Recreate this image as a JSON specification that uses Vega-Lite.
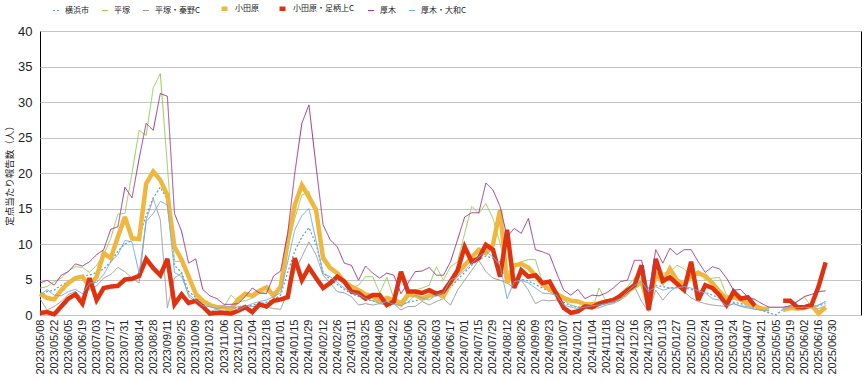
{
  "$schema": "https://vega.github.io/schema/vega-lite/v6.json",
  "width": 821,
  "height": 284,
  "autosize": {"type": "none"},
  "padding": {"left": 40, "top": 31, "right": 3, "bottom": 67},
  "background": "white",
  "config": {
    "view": {"stroke": "#000000", "strokeWidth": 1},
    "font": "Liberation Sans",
    "legend": {
      "orient": "none",
      "legendX": 12,
      "legendY": -28,
      "direction": "horizontal",
      "symbolType": "stroke",
      "symbolSize": 36,
      "labelFont": "Noto Sans CJK JP",
      "labelFontSize": 8,
      "labelColor": "#222222",
      "labelOffset": 5,
      "columnPadding": 11
    }
  },
  "data": {
    "values": [
      {"week":"2023/05/08","横浜市":2.5,"平塚":3.8,"平塚・秦野C":2.3,"小田原":3.0,"小田原・足柄上C":0.3,"厚木":4.5,"厚木・大和C":2.8},
      {"week":"2023/05/15","横浜市":3.3,"平塚":4.0,"平塚・秦野C":0.7,"小田原":2.4,"小田原・足柄上C":0.4,"厚木":4.9,"厚木・大和C":3.6},
      {"week":"2023/05/22","横浜市":3.5,"平塚":4.7,"平塚・秦野C":1.2,"小田原":2.2,"小田原・足柄上C":0.1,"厚木":4.2,"厚木・大和C":2.8},
      {"week":"2023/05/29","横浜市":4.2,"平塚":5.2,"平塚・秦野C":1.9,"小田原":3.5,"小田原・足柄上C":1.2,"厚木":5.6,"厚木・大和C":2.7},
      {"week":"2023/06/05","横浜市":4.7,"平塚":6.2,"平塚・秦野C":2.9,"小田原":4.5,"小田原・足柄上C":2.3,"厚木":6.1,"厚木・大和C":3.3},
      {"week":"2023/06/12","横浜市":5.0,"平塚":6.8,"平塚・秦野C":3.3,"小田原":5.2,"小田原・足柄上C":2.9,"厚木":7.2,"厚木・大和C":3.6},
      {"week":"2023/06/19","横浜市":5.6,"平塚":6.7,"平塚・秦野C":2.3,"小田原":5.4,"小田原・足柄上C":1.6,"厚木":6.9,"厚木・大和C":3.0},
      {"week":"2023/06/26","横浜市":5.6,"平塚":6.0,"平塚・秦野C":3.8,"小田原":4.0,"小田原・足柄上C":5.2,"厚木":7.5,"厚木・大和C":4.5},
      {"week":"2023/07/03","横浜市":6.0,"平塚":7.0,"平塚・秦野C":4.1,"小田原":5.4,"小田原・足柄上C":2.1,"厚木":8.5,"厚木・大和C":4.6},
      {"week":"2023/07/10","横浜市":6.5,"平塚":8.5,"平塚・秦野C":5.2,"小田原":8.7,"小田原・足柄上C":3.8,"厚木":9.2,"厚木・大和C":5.7},
      {"week":"2023/07/17","横浜市":7.5,"平塚":10.8,"平塚・秦野C":5.7,"小田原":8.0,"小田原・足柄上C":4.0,"厚木":12.1,"厚木・大和C":7.5},
      {"week":"2023/07/24","横浜市":9.0,"平塚":14.2,"平塚・秦野C":6.7,"小田原":11.0,"小田原・足柄上C":4.1,"厚木":12.4,"厚木・大和C":8.5},
      {"week":"2023/07/31","横浜市":10.0,"平塚":14.3,"平塚・秦野C":6.1,"小田原":13.8,"小田原・足柄上C":5.0,"厚木":18.0,"厚木・大和C":10.5},
      {"week":"2023/08/07","横浜市":10.5,"平塚":20.0,"平塚・秦野C":5.2,"小田原":10.8,"小田原・足柄上C":5.1,"厚木":16.5,"厚木・大和C":10.3},
      {"week":"2023/08/14","横浜市":11.0,"平塚":26.0,"平塚・秦野C":4.5,"小田原":10.7,"小田原・足柄上C":5.5,"厚木":22.0,"厚木・大和C":5.9},
      {"week":"2023/08/21","横浜市":14.0,"平塚":25.3,"平塚・秦野C":13.4,"小田原":18.5,"小田原・足柄上C":7.9,"厚木":27.0,"厚木・大和C":13.2},
      {"week":"2023/08/28","横浜市":16.5,"平塚":32.0,"平塚・秦野C":16.4,"小田原":20.2,"小田原・足柄上C":6.6,"厚木":26.0,"厚木・大和C":14.3},
      {"week":"2023/09/04","横浜市":18.0,"平塚":34.0,"平塚・秦野C":13.4,"小田原":19.0,"小田原・足柄上C":5.6,"厚木":31.2,"厚木・大和C":16.0},
      {"week":"2023/09/11","横浜市":16.2,"平塚":21.0,"平塚・秦野C":1.0,"小田原":16.9,"小田原・足柄上C":7.9,"厚木":30.8,"厚木・大和C":15.5},
      {"week":"2023/09/18","横浜市":7.0,"平塚":7.5,"平塚・秦野C":5.2,"小田原":9.6,"小田原・足柄上C":1.5,"厚木":14.3,"厚木・大和C":6.0},
      {"week":"2023/09/25","横浜市":6.0,"平塚":7.6,"平塚・秦野C":5.9,"小田原":7.8,"小田原・足柄上C":2.9,"厚木":11.8,"厚木・大和C":5.4},
      {"week":"2023/10/02","横浜市":3.3,"平塚":5.4,"平塚・秦野C":2.6,"小田原":5.4,"小田原・足柄上C":1.7,"厚木":7.3,"厚木・大和C":2.9},
      {"week":"2023/10/09","横浜市":2.5,"平塚":3.2,"平塚・秦野C":1.9,"小田原":3.0,"小田原・足柄上C":2.0,"厚木":7.9,"厚木・大和C":2.1},
      {"week":"2023/10/16","横浜市":1.5,"平塚":2.1,"平塚・秦野C":1.3,"小田原":2.0,"小田原・足柄上C":1.2,"厚木":3.6,"厚木・大和C":1.3},
      {"week":"2023/10/23","横浜市":1.2,"平塚":1.4,"平塚・秦野C":0.5,"小田原":1.4,"小田原・足柄上C":0.2,"厚木":2.7,"厚木・大和C":1.2},
      {"week":"2023/10/30","横浜市":1.0,"平塚":1.2,"平塚・秦野C":0.8,"小田原":1.1,"小田原・足柄上C":0.3,"厚木":2.3,"厚木・大和C":0.9},
      {"week":"2023/11/06","横浜市":1.0,"平塚":1.2,"平塚・秦野C":0.5,"小田原":1.1,"小田原・足柄上C":0.3,"厚木":1.5,"厚木・大和C":1.1},
      {"week":"2023/11/13","横浜市":1.2,"平塚":2.8,"平塚・秦野C":0.7,"小田原":0.8,"小田原・足柄上C":0.2,"厚木":1.5,"厚木・大和C":1.2},
      {"week":"2023/11/20","横浜市":1.0,"平塚":1.9,"平塚・秦野C":1.2,"小田原":2.2,"小田原・足柄上C":0.6,"厚木":1.6,"厚木・大和C":0.7},
      {"week":"2023/11/27","横浜市":1.1,"平塚":2.0,"平塚・秦野C":1.3,"小田原":3.0,"小田原・足柄上C":1.1,"厚木":2.6,"厚木・大和C":1.2},
      {"week":"2023/12/04","横浜市":1.4,"平塚":2.4,"平塚・秦野C":1.2,"小田原":2.7,"小田原・足柄上C":0.4,"厚木":3.8,"厚木・大和C":1.6},
      {"week":"2023/12/11","横浜市":1.6,"平塚":3.0,"平塚・秦野C":1.2,"小田原":3.4,"小田原・足柄上C":1.5,"厚木":3.1,"厚木・大和C":1.9},
      {"week":"2023/12/18","横浜市":1.8,"平塚":3.3,"平塚・秦野C":1.1,"小田原":3.9,"小田原・足柄上C":1.2,"厚木":3.0,"厚木・大和C":2.1},
      {"week":"2023/12/25","横浜市":2.2,"平塚":3.2,"平塚・秦野C":0.9,"小田原":2.7,"小田原・足柄上C":2.0,"厚木":5.5,"厚木・大和C":2.6},
      {"week":"2024/01/01","横浜市":2.8,"平塚":4.0,"平塚・秦野C":0.8,"小田原":4.0,"小田原・足柄上C":2.2,"厚木":6.2,"厚木・大和C":3.1},
      {"week":"2024/01/08","横浜市":6.0,"平塚":9.5,"平塚・秦野C":3.3,"小田原":10.3,"小田原・足柄上C":2.5,"厚木":11.5,"厚木・大和C":7.5},
      {"week":"2024/01/15","横浜市":9.0,"平塚":13.6,"平塚・秦野C":6.1,"小田原":15.5,"小田原・足柄上C":8.0,"厚木":20.0,"厚木・大和C":12.0},
      {"week":"2024/01/22","横浜市":11.0,"平塚":16.9,"平塚・秦野C":8.2,"小田原":18.3,"小田原・足柄上C":4.9,"厚木":27.0,"厚木・大和C":14.0},
      {"week":"2024/01/29","横浜市":12.3,"平塚":17.4,"平塚・秦野C":10.3,"小田原":16.6,"小田原・足柄上C":6.7,"厚木":29.6,"厚木・大和C":15.0},
      {"week":"2024/02/05","横浜市":10.0,"平塚":14.6,"平塚・秦野C":8.5,"小田原":14.8,"小田原・足柄上C":5.2,"厚木":21.0,"厚木・大和C":10.5},
      {"week":"2024/02/12","横浜市":6.0,"平塚":8.5,"平塚・秦野C":5.6,"小田原":8.0,"小田原・足柄上C":3.8,"厚木":12.7,"厚木・大和C":5.8},
      {"week":"2024/02/19","横浜市":5.0,"平塚":7.0,"平塚・秦野C":4.5,"小田原":6.6,"小田原・足柄上C":4.5,"厚木":10.6,"厚木・大和C":5.4},
      {"week":"2024/02/26","横浜市":4.3,"平塚":6.1,"平塚・秦野C":3.3,"小田原":5.9,"小田原・足柄上C":5.4,"厚木":9.6,"厚木・大和C":4.6},
      {"week":"2024/03/04","横浜市":3.6,"平塚":4.7,"平塚・秦野C":3.1,"小田原":4.7,"小田原・足柄上C":4.7,"厚木":7.3,"厚木・大和C":3.8},
      {"week":"2024/03/11","横浜市":3.0,"平塚":3.8,"平塚・秦野C":2.6,"小田原":4.0,"小田原・足柄上C":3.3,"厚木":7.0,"厚木・大和C":3.2},
      {"week":"2024/03/18","横浜市":2.6,"平塚":4.2,"平塚・秦野C":1.4,"小田原":3.5,"小田原・足柄上C":3.1,"厚木":4.9,"厚木・大和C":2.9},
      {"week":"2024/03/25","横浜市":2.2,"平塚":5.4,"平塚・秦野C":1.6,"小田原":2.9,"小田原・足柄上C":2.3,"厚木":6.9,"厚木・大和C":2.3},
      {"week":"2024/04/01","横浜市":2.0,"平塚":5.4,"平塚・秦野C":1.4,"小田原":2.6,"小田原・足柄上C":2.8,"厚木":5.9,"厚木・大和C":2.0},
      {"week":"2024/04/08","横浜市":1.7,"平塚":3.1,"平塚・秦野C":1.6,"小田原":1.9,"小田原・足柄上C":2.8,"厚木":5.2,"厚木・大和C":1.6},
      {"week":"2024/04/15","横浜市":1.8,"平塚":5.3,"平塚・秦野C":1.4,"小田原":2.4,"小田原・足柄上C":1.4,"厚木":5.9,"厚木・大和C":1.9},
      {"week":"2024/04/22","横浜市":1.6,"平塚":2.3,"平塚・秦野C":1.6,"小田原":2.1,"小田原・足柄上C":1.9,"厚木":5.6,"厚木・大和C":1.5},
      {"week":"2024/04/29","横浜市":1.5,"平塚":2.0,"平塚・秦野C":0.7,"小田原":1.5,"小田原・足柄上C":6.1,"厚木":3.0,"厚木・大和C":1.3},
      {"week":"2024/05/06","横浜市":1.8,"平塚":3.3,"平塚・秦野C":1.2,"小田原":2.8,"小田原・足柄上C":3.3,"厚木":4.5,"厚木・大和C":1.8},
      {"week":"2024/05/13","横浜市":2.0,"平塚":3.5,"平塚・秦野C":1.2,"小田原":2.8,"小田原・足柄上C":3.3,"厚木":6.1,"厚木・大和C":2.8},
      {"week":"2024/05/20","横浜市":2.2,"平塚":3.8,"平塚・秦野C":1.9,"小田原":2.3,"小田原・足柄上C":3.1,"厚木":6.2,"厚木・大和C":2.4},
      {"week":"2024/05/27","横浜市":2.5,"平塚":4.2,"平塚・秦野C":1.4,"小田原":2.7,"小田原・足柄上C":3.5,"厚木":6.7,"厚木・大和C":2.1},
      {"week":"2024/06/03","横浜市":2.7,"平塚":6.8,"平塚・秦野C":1.9,"小田原":3.1,"小田原・足柄上C":3.0,"厚木":5.6,"厚木・大和C":2.8},
      {"week":"2024/06/10","横浜市":3.0,"平塚":4.9,"平塚・秦野C":2.3,"小田原":2.6,"小田原・足柄上C":3.3,"厚木":5.6,"厚木・大和C":3.1},
      {"week":"2024/06/17","横浜市":3.9,"平塚":6.8,"平塚・秦野C":1.4,"小田原":4.5,"小田原・足柄上C":4.7,"厚木":7.5,"厚木・大和C":4.9},
      {"week":"2024/06/24","横浜市":5.0,"平塚":7.5,"平塚・秦野C":3.5,"小田原":5.9,"小田原・足柄上C":6.3,"厚木":10.6,"厚木・大和C":5.4},
      {"week":"2024/07/01","横浜市":6.0,"平塚":11.5,"平塚・秦野C":4.9,"小田原":7.0,"小田原・足柄上C":9.6,"厚木":13.8,"厚木・大和C":6.3},
      {"week":"2024/07/08","横浜市":7.0,"平塚":15.3,"平塚・秦野C":6.3,"小田原":8.1,"小田原・足柄上C":7.5,"厚木":14.4,"厚木・大和C":7.3},
      {"week":"2024/07/15","横浜市":7.8,"平塚":14.3,"平塚・秦野C":7.7,"小田原":9.2,"小田原・足柄上C":8.0,"厚木":14.4,"厚木・大和C":8.2},
      {"week":"2024/07/22","横浜市":8.3,"平塚":15.7,"平塚・秦野C":6.1,"小田原":8.7,"小田原・足柄上C":9.9,"厚木":18.6,"厚木・大和C":8.9},
      {"week":"2024/07/29","横浜市":8.0,"平塚":13.6,"平塚・秦野C":5.2,"小田原":9.9,"小田原・足柄上C":9.2,"厚木":17.6,"厚木・大和C":8.2},
      {"week":"2024/08/05","横浜市":7.5,"平塚":10.1,"平塚・秦野C":4.9,"小田原":14.8,"小田原・足柄上C":5.4,"厚木":15.3,"厚木・大和C":7.0},
      {"week":"2024/08/12","横浜市":4.5,"平塚":5.9,"平塚・秦野C":4.5,"小田原":4.5,"小田原・足柄上C":12.0,"厚木":11.0,"厚木・大和C":2.3},
      {"week":"2024/08/19","横浜市":5.2,"平塚":7.0,"平塚・秦野C":3.8,"小田原":7.0,"小田原・足柄上C":3.8,"厚木":12.2,"厚木・大和C":4.7},
      {"week":"2024/08/26","横浜市":5.0,"平塚":7.5,"平塚・秦野C":4.9,"小田原":7.2,"小田原・足柄上C":6.3,"厚木":11.5,"厚木・大和C":4.9},
      {"week":"2024/09/02","横浜市":4.8,"平塚":7.8,"平塚・秦野C":3.5,"小田原":6.7,"小田原・足柄上C":5.4,"厚木":13.6,"厚木・大和C":4.5},
      {"week":"2024/09/09","横浜市":4.3,"平塚":7.8,"平塚・秦野C":1.6,"小田原":5.5,"小田原・足柄上C":5.6,"厚木":9.2,"厚木・大和C":3.8},
      {"week":"2024/09/16","横浜市":3.8,"平塚":4.6,"平塚・秦野C":2.1,"小田原":4.3,"小田原・足柄上C":4.5,"厚木":8.9,"厚木・大和C":3.1},
      {"week":"2024/09/23","横浜市":3.3,"平塚":4.4,"平塚・秦野C":2.0,"小田原":3.6,"小田原・足柄上C":4.7,"厚木":8.5,"厚木・大和C":3.0},
      {"week":"2024/09/30","横浜市":3.0,"平塚":3.0,"平塚・秦野C":2.1,"小田原":3.0,"小田原・足柄上C":2.9,"厚木":5.9,"厚木・大和C":2.8},
      {"week":"2024/10/07","横浜市":1.8,"平塚":2.1,"平塚・秦野C":1.2,"小田原":2.4,"小田原・足柄上C":1.0,"厚木":3.5,"厚木・大和C":1.4},
      {"week":"2024/10/14","横浜市":1.3,"平塚":1.4,"平塚・秦野C":0.5,"小田原":2.0,"小田原・足柄上C":0.3,"厚木":2.8,"厚木・大和C":1.1},
      {"week":"2024/10/21","横浜市":1.1,"平塚":1.1,"平塚・秦野C":0.8,"小田原":1.9,"小田原・足柄上C":0.5,"厚木":3.6,"厚木・大和C":0.9},
      {"week":"2024/10/28","横浜市":1.1,"平塚":1.2,"平塚・秦野C":1.1,"小田原":1.5,"小田原・足柄上C":1.2,"厚木":2.3,"厚木・大和C":1.1},
      {"week":"2024/11/04","横浜市":1.2,"平塚":0.7,"平塚・秦野C":0.9,"小田原":1.5,"小田原・足柄上C":1.1,"厚木":2.8,"厚木・大和C":1.3},
      {"week":"2024/11/11","横浜市":1.4,"平塚":3.8,"平塚・秦野C":1.0,"小田原":1.6,"小田原・足柄上C":1.6,"厚木":2.7,"厚木・大和C":1.4},
      {"week":"2024/11/18","横浜市":1.6,"平塚":1.9,"平塚・秦野C":1.4,"小田原":1.9,"小田原・足柄上C":1.9,"厚木":3.1,"厚木・大和C":1.6},
      {"week":"2024/11/25","横浜市":1.8,"平塚":2.1,"平塚・秦野C":1.6,"小田原":2.1,"小田原・足柄上C":2.1,"厚木":3.8,"厚木・大和C":1.9},
      {"week":"2024/12/02","横浜市":2.2,"平塚":3.1,"平塚・秦野C":2.1,"小田原":2.5,"小田原・足柄上C":2.7,"厚木":4.7,"厚木・大和C":2.3},
      {"week":"2024/12/09","横浜市":3.0,"平塚":4.0,"平塚・秦野C":2.8,"小田原":3.3,"小田原・足柄上C":3.5,"厚木":4.9,"厚木・大和C":3.3},
      {"week":"2024/12/16","横浜市":3.8,"平塚":5.2,"平塚・秦野C":4.0,"小田原":4.0,"小田原・足柄上C":4.2,"厚木":7.7,"厚木・大和C":4.2},
      {"week":"2024/12/23","横浜市":4.2,"平塚":5.2,"平塚・秦野C":1.9,"小田原":4.7,"小田原・足柄上C":7.0,"厚木":7.7,"厚木・大和C":4.7},
      {"week":"2024/12/30","横浜市":3.8,"平塚":1.6,"平塚・秦野C":0.5,"小田原":1.4,"小田原・足柄上C":0.7,"厚木":3.0,"厚木・大和C":3.3},
      {"week":"2025/01/06","横浜市":4.2,"平塚":5.4,"平塚・秦野C":3.5,"小田原":5.8,"小田原・足柄上C":7.9,"厚木":9.2,"厚木・大和C":4.0},
      {"week":"2025/01/13","横浜市":4.0,"平塚":5.9,"平塚・秦野C":2.1,"小田原":4.6,"小田原・足柄上C":4.8,"厚木":7.3,"厚木・大和C":3.5},
      {"week":"2025/01/20","横浜市":3.8,"平塚":6.0,"平塚・秦野C":3.3,"小田原":6.5,"小田原・足柄上C":5.3,"厚木":9.4,"厚木・大和C":3.8},
      {"week":"2025/01/27","横浜市":3.9,"平塚":7.0,"平塚・秦野C":4.0,"小田原":4.9,"小田原・足柄上C":4.4,"厚木":8.5,"厚木・大和C":3.8},
      {"week":"2025/02/03","横浜市":3.8,"平塚":6.5,"平塚・秦野C":3.3,"小田原":4.3,"小田原・足柄上C":3.5,"厚木":9.2,"厚木・大和C":4.0},
      {"week":"2025/02/10","横浜市":3.6,"平塚":5.5,"平塚・秦野C":2.4,"小田原":5.5,"小田原・足柄上C":7.5,"厚木":9.2,"厚木・大和C":3.8},
      {"week":"2025/02/17","横浜市":3.4,"平塚":6.3,"平塚・秦野C":1.9,"小田原":5.9,"小田原・足柄上C":2.1,"厚木":7.5,"厚木・大和C":3.4},
      {"week":"2025/02/24","横浜市":3.2,"平塚":4.9,"平塚・秦野C":1.6,"小田原":5.5,"小田原・足柄上C":4.2,"厚木":6.0,"厚木・大和C":3.1},
      {"week":"2025/03/03","横浜市":2.8,"平塚":5.2,"平塚・秦野C":1.4,"小田原":4.5,"小田原・足柄上C":3.8,"厚木":6.8,"厚木・大和C":2.3},
      {"week":"2025/03/10","横浜市":2.4,"平塚":5.3,"平塚・秦野C":1.3,"小田原":3.3,"小田原・足柄上C":2.8,"厚木":6.5,"厚木・大和C":2.1},
      {"week":"2025/03/17","横浜市":2.0,"平塚":2.8,"平塚・秦野C":1.2,"小田原":2.3,"小田原・足柄上C":1.4,"厚木":5.2,"厚木・大和C":1.3},
      {"week":"2025/03/24","横浜市":1.8,"平塚":2.6,"平塚・秦野C":1.6,"小田原":2.5,"小田原・足柄上C":3.3,"厚木":3.5,"厚木・大和C":1.6},
      {"week":"2025/03/31","横浜市":1.6,"平塚":2.3,"平塚・秦野C":1.2,"小田原":2.2,"小田原・足柄上C":2.3,"厚木":3.6,"厚木・大和C":1.3},
      {"week":"2025/04/07","横浜市":1.4,"平塚":1.8,"平塚・秦野C":1.0,"小田原":1.6,"小田原・足柄上C":2.5,"厚木":2.5,"厚木・大和C":1.2},
      {"week":"2025/04/14","横浜市":1.0,"平塚":1.3,"平塚・秦野C":0.8,"小田原":1.3,"小田原・足柄上C":1.3,"厚木":2.2,"厚木・大和C":0.8},
      {"week":"2025/04/21","横浜市":0.6,"平塚":0.9,"平塚・秦野C":0.7,"小田原":0.9,"小田原・足柄上C":null,"厚木":1.6,"厚木・大和C":0.7},
      {"week":"2025/04/28","横浜市":0.3,"平塚":0.7,"平塚・秦野C":0.6,"小田原":0.8,"小田原・足柄上C":null,"厚木":1.1,"厚木・大和C":0.6},
      {"week":"2025/05/05","横浜市":0.0,"平塚":null,"平塚・秦野C":null,"小田原":null,"小田原・足柄上C":null,"厚木":1.1,"厚木・大和C":null},
      {"week":"2025/05/12","横浜市":0.8,"平塚":0.5,"平塚・秦野C":0.8,"小田原":0.7,"小田原・足柄上C":2.0,"厚木":1.1,"厚木・大和C":0.9},
      {"week":"2025/05/19","横浜市":1.0,"平塚":1.1,"平塚・秦野C":0.8,"小田原":1.0,"小田原・足柄上C":2.0,"厚木":1.3,"厚木・大和C":1.1},
      {"week":"2025/05/26","横浜市":1.0,"平塚":1.9,"平塚・秦野C":1.2,"小田原":0.9,"小田原・足柄上C":1.1,"厚木":1.9,"厚木・大和C":1.0},
      {"week":"2025/06/02","横浜市":1.1,"平塚":2.5,"平塚・秦野C":1.1,"小田原":1.0,"小田原・足柄上C":1.1,"厚木":2.6,"厚木・大和C":1.1},
      {"week":"2025/06/09","横浜市":1.1,"平塚":1.2,"平塚・秦野C":1.0,"小田原":1.4,"小田原・足柄上C":1.4,"厚木":2.9,"厚木・大和C":1.0},
      {"week":"2025/06/16","横浜市":1.3,"平塚":1.4,"平塚・秦野C":0.9,"小田原":0.2,"小田原・足柄上C":4.0,"厚木":3.3,"厚木・大和C":1.4},
      {"week":"2025/06/23","横浜市":1.6,"平塚":1.9,"平塚・秦野C":1.3,"小田原":1.1,"小田原・足柄上C":7.4,"厚木":3.4,"厚木・大和C":1.9},
      {"week":"2025/06/30","横浜市":null,"平塚":null,"平塚・秦野C":null,"小田原":null,"小田原・足柄上C":null,"厚木":null,"厚木・大和C":null},
      {"week":"2025/07/07","横浜市":null,"平塚":null,"平塚・秦野C":null,"小田原":null,"小田原・足柄上C":null,"厚木":null,"厚木・大和C":null},
      {"week":"2025/07/14","横浜市":null,"平塚":null,"平塚・秦野C":null,"小田原":null,"小田原・足柄上C":null,"厚木":null,"厚木・大和C":null},
      {"week":"2025/07/21","横浜市":null,"平塚":null,"平塚・秦野C":null,"小田原":null,"小田原・足柄上C":null,"厚木":null,"厚木・大和C":null},
      {"week":"2025/07/28","横浜市":null,"平塚":null,"平塚・秦野C":null,"小田原":null,"小田原・足柄上C":null,"厚木":null,"厚木・大和C":null}
    ]
  },
  "transform": [
    {"fold": ["横浜市", "平塚", "平塚・秦野C", "小田原", "小田原・足柄上C", "厚木", "厚木・大和C"], "as": ["series", "value"]}
  ],
  "mark": {"type": "line", "invalid": "break-paths-show-domains", "strokeJoin": "miter", "strokeMiterLimit": 3},
  "encoding": {
    "x": {
      "field": "week",
      "type": "ordinal",
      "sort": null,
      "scale": {"type": "point", "padding": 0},
      "axis": {
        "title": null,
        "labelAngle": -90,
        "labelFontSize": 11,
        "labelColor": "#222222",
        "labelPadding": 4,
        "labelOverlap": false,
        "ticks": false,
        "domain": false,
        "grid": false,
        "labelExpr": "(round((toDate(datum.value) - toDate('2023/05/08')) / 604800000) % 2 == 0) && datum.value <= '2025/06/30' ? datum.value : ''"
      }
    },
    "y": {
      "field": "value",
      "type": "quantitative",
      "scale": {"domain": [0, 40], "nice": false},
      "axis": {
        "values": [0, 5, 10, 15, 20, 25, 30, 35, 40],
        "title": "定点当たり報告数（人）",
        "titleFont": "Noto Sans CJK JP",
        "titleFontSize": 9.5,
        "titleFontWeight": "normal",
        "titleColor": "#222222",
        "titlePadding": 3,
        "labelFontSize": 13,
        "labelColor": "#222222",
        "labelPadding": 8,
        "ticks": false,
        "domain": false,
        "grid": true,
        "gridColor": "#c4c4c4",
        "gridWidth": 1.2
      }
    },
    "color": {
      "field": "series",
      "type": "ordinal",
      "sort": ["横浜市", "平塚", "平塚・秦野C", "小田原", "小田原・足柄上C", "厚木", "厚木・大和C"],
      "scale": {
        "domain": ["横浜市", "平塚", "平塚・秦野C", "小田原", "小田原・足柄上C", "厚木", "厚木・大和C"],
        "range": ["#5b9bd5", "#92d050", "#9a9a9a", "#efb73e", "#e0320f", "#a3348a", "#6aaeea"]
      },
      "legend": {"title": null}
    },
    "strokeDash": {
      "field": "series",
      "type": "ordinal",
      "sort": ["横浜市", "平塚", "平塚・秦野C", "小田原", "小田原・足柄上C", "厚木", "厚木・大和C"],
      "scale": {
        "domain": ["横浜市", "平塚", "平塚・秦野C", "小田原", "小田原・足柄上C", "厚木", "厚木・大和C"],
        "range": [[2, 2], [1, 0], [1, 0], [1, 0], [1, 0], [1, 0], [1, 0]]
      },
      "legend": {"title": null}
    },
    "strokeWidth": {
      "field": "series",
      "type": "ordinal",
      "sort": ["横浜市", "平塚", "平塚・秦野C", "小田原", "小田原・足柄上C", "厚木", "厚木・大和C"],
      "scale": {
        "type": "ordinal",
        "domain": ["横浜市", "平塚", "平塚・秦野C", "小田原", "小田原・足柄上C", "厚木", "厚木・大和C"],
        "range": [1.2, 1, 1, 4.5, 4.5, 1, 1]
      },
      "legend": {"title": null}
    }
  }
}
